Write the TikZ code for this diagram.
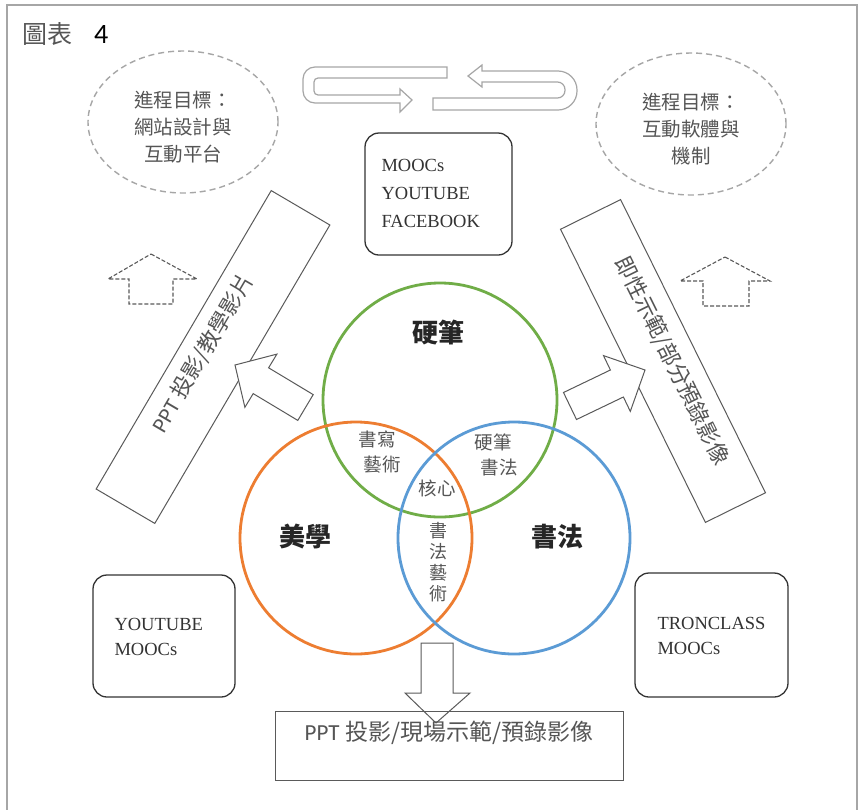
\documentclass[tikz,border=0pt]{standalone}
\usepackage{fontspec}
\setmainfont{Liberation Serif}
\newfontfamily\cjk{Noto Sans CJK TC}
\newfontfamily\cali{Carlito}
\usetikzlibrary{shapes.geometric}
\definecolor{vgreen}{HTML}{70AD47}
\definecolor{vorange}{HTML}{ED7D31}
\definecolor{vblue}{HTML}{5B9BD5}
\definecolor{txtgray}{HTML}{555555}
\definecolor{linegray}{HTML}{5A5A5A}
\definecolor{lightline}{HTML}{A6A6A6}
\begin{document}
\begin{tikzpicture}[x=1pt,y=-1pt,
  goal/.style={ellipse,draw=lightline,line width=1.4pt,dash pattern=on 6pt off 4pt,inner sep=0pt},
  goaltext/.style={align=center,text=txtgray,font=\cjk\fontsize{19.5}{27}\selectfont},
  dasharrow/.style={draw=linegray,line width=1.1pt,dash pattern=on 4pt off 2pt},
  ushape/.style={draw=lightline,line width=1.2pt},
  slab/.style={draw=linegray,line width=1pt,inner sep=0pt},
  slabtext/.style={text=txtgray,font=\fontsize{22}{26}\selectfont},
  blockarrow/.style={draw=linegray,line width=1pt,fill=white},
  ring/.style={line width=2.8pt},
  bigword/.style={font=\cjk\bfseries\fontsize{26}{30}\selectfont,text=black!85},
  smallword/.style={font=\cjk\fontsize{18.5}{25}\selectfont,text=txtgray,align=center},
  mediabox/.style={draw=black!80,line width=1.3pt,rounded corners=14pt},
  mediatext/.style={align=left,anchor=west,text=black!80,font=\fontsize{18.5}{25}\selectfont}
]
\useasboundingbox (0,0) rectangle (864,809);
\fill[white] (0,0) rectangle (864,809);
% outer frame
\draw[lightline,line width=1.5pt] (7,812) -- (7,5) -- (857,5) -- (857,812);
% title
\node[anchor=west,inner sep=0pt] (title) at (22,34) {{\cjk\fontsize{25}{28}\selectfont\color{txtgray}圖表}\hspace{22pt}{\cali\fontsize{28}{30}\selectfont 4}};

% goal ellipses
\node[goal,minimum width=190pt,minimum height=142pt] (goalL) at (183,122) {};
\node[goaltext] (goalLt) at (183,127) {進程目標：\\網站設計與\\互動平台};
\node[goal,minimum width=190pt,minimum height=142pt] (goalR) at (691,124) {};
\node[goaltext] (goalRt) at (691,129) {進程目標：\\互動軟體與\\機制};

% U-turn arrows
\draw[ushape] (447,67) [rounded corners=12pt] -- (303,67) -- (303,103) [sharp corners] -- (400,103) -- (400,112) -- (412,100) -- (400,89) -- (400,95) [rounded corners=4pt] -- (314,95) -- (314,78) [sharp corners] -- (447,78) -- cycle;
\draw[ushape] (433,98) [rounded corners=7.5pt] -- (565,98) -- (565,82) [sharp corners] -- (482,82) -- (482,87) -- (468,76) -- (482,65) -- (482,71) [rounded corners=19pt] -- (577,71) -- (577,110) [sharp corners] -- (433,110) -- cycle;

% top media box
\node[mediabox,minimum width=147pt,minimum height=122pt] (boxTop) at (438.5,194) {};
\node[mediatext,font=\fontsize{18.5}{28}\selectfont] (boxTopt) at (378,193) {MOOCs\\YOUTUBE\\FACEBOOK};

% dashed up arrows
\draw[dasharrow] (151,254) -- (197,279) -- (173,279) -- (173,304) -- (129,304) -- (129,279) -- (108,279) -- cycle;
\draw[dasharrow] (725,257) -- (770,281) -- (749,281) -- (749,306) -- (703,306) -- (703,281) -- (680,281) -- cycle;

% slanted slabs
\node[slab,minimum width=346pt,minimum height=68pt,rotate=59.6] (slabL) at (213,357) {};
\node[slabtext,rotate=59.6] (slabLt) at (203,353) {{\cali PPT} {\cjk 投影/教學影片}};
\node[slab,minimum width=327pt,minimum height=67pt,rotate=-63.7] (slabR) at (663,361) {};
\node[slabtext,rotate=-63.7] (slabRt) at (672,361) {\cjk 即性示範/部分預錄影像};

% block arrows toward slabs
\draw[blockarrow] (235,365) -- (276.9,354.1) -- (268.6,367.8) -- (313.2,394.6) -- (297.8,420.4) -- (253.2,393.6) -- (244.9,407.3) -- cycle;
\draw[blockarrow] (645,370) -- (603.5,355.6) -- (610.4,370.0) -- (563.5,392.5) -- (576.5,419.5) -- (623.4,397.0) -- (630.3,411.4) -- cycle;

% Venn circles
\draw[ring,vgreen] (440,400) circle[radius=117pt];
\draw[ring,vorange] (356,538) circle[radius=116pt];
\draw[ring,vblue] (514,538) circle[radius=116pt];
\coordinate (cG) at (440,400);
\coordinate (cO) at (356,538);
\coordinate (cB) at (514,538);

% Venn labels
\node[bigword] (lHard) at (438,333) {硬筆};
\node[bigword] (lAes) at (305,537) {美學};
\node[bigword] (lCal) at (557,537) {書法};
\node[smallword] (lWrite) at (377,452) {書寫\\\hspace{10pt}藝術};
\node[smallword] (lHardCal) at (493,455) {硬筆\\\hspace{12pt}書法};
\node[smallword] (lCore) at (437,488) {核心};
\node[smallword,font=\cjk\fontsize{18}{21}\selectfont] (lArt) at (438,562) {書\\法\\藝\\術};

% bottom media boxes
\node[mediabox,minimum width=142pt,minimum height=122pt] (boxL) at (164,636) {};
\node[mediatext] (boxLt) at (111,637) {YOUTUBE\\MOOCs};
\node[mediabox,minimum width=153pt,minimum height=124pt] (boxR) at (711.5,635) {};
\node[mediatext] (boxRt) at (654,636) {TRONCLASS\\MOOCs};

% bottom slab and arrow
\node[slab,minimum width=348pt,minimum height=69pt] (slabB) at (449,745.5) {};
\draw[draw=linegray,line width=1pt] (421,643) -- (453,643) -- (453,693) -- (470,693) -- (436,723) -- (405,693) -- (421,693) -- cycle;
\node[slabtext,font=\fontsize{23}{26}\selectfont] (slabBt) at (449,733) {{\cali PPT} {\cjk 投影/現場示範/預錄影像}};
\end{tikzpicture}
\end{document}
